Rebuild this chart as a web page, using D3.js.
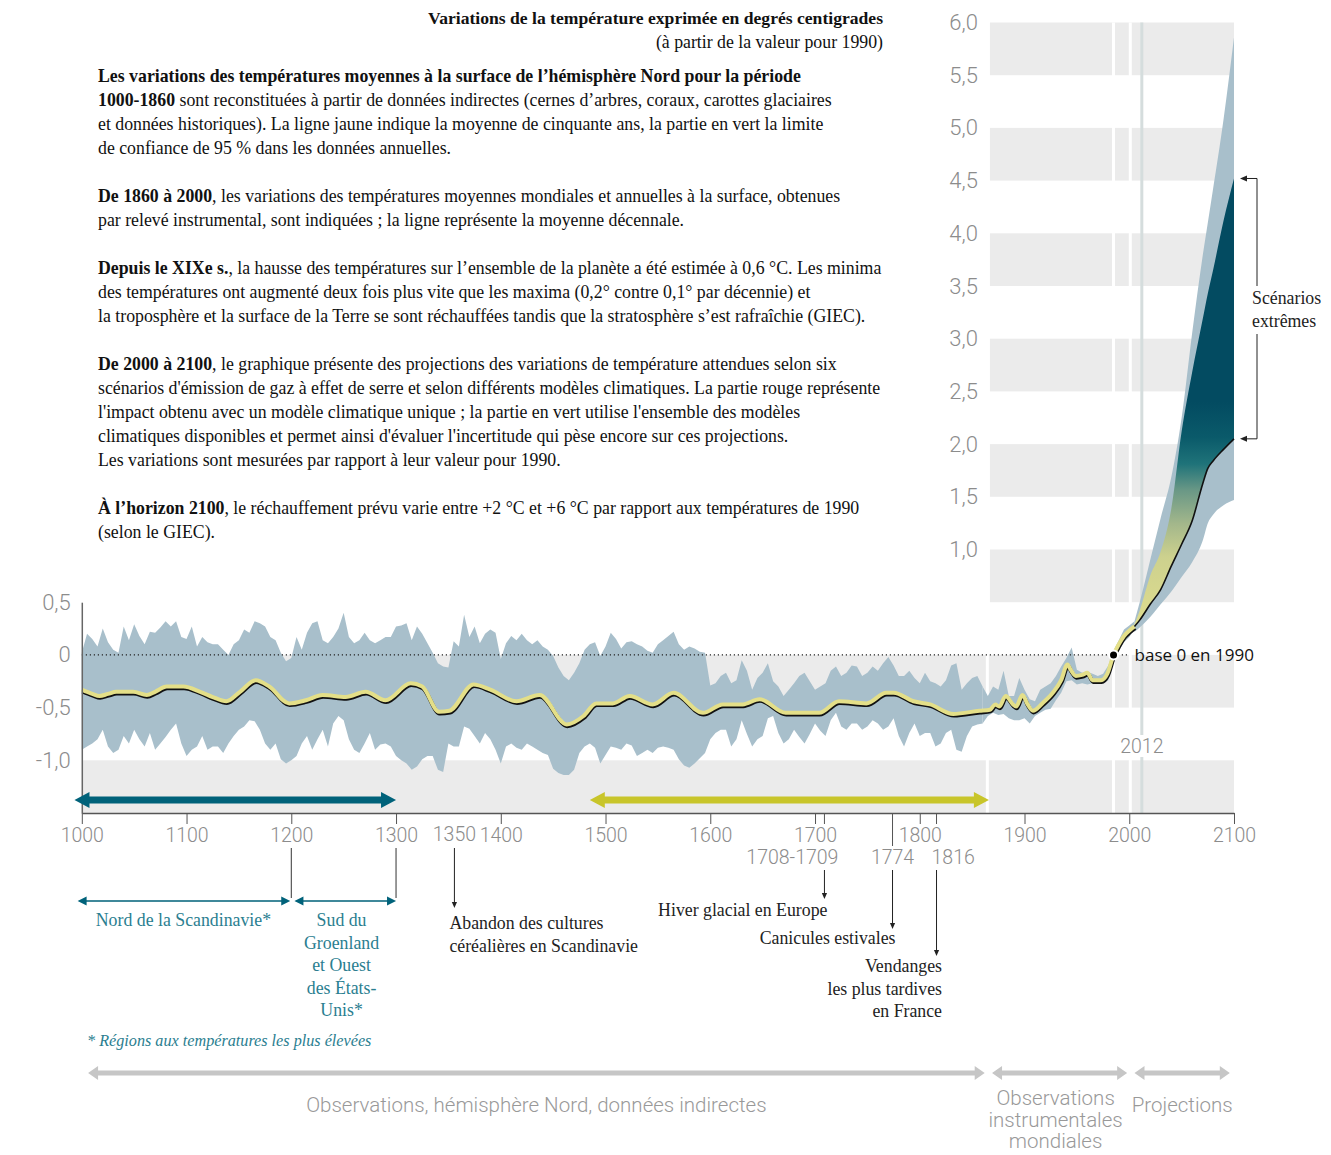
<!DOCTYPE html>
<html>
<head>
<meta charset="utf-8">
<script src="https://cdn.jsdelivr.net/npm/d3@7"></script>
<style>
  body { margin: 0; background: #fff; }
  svg { display: block; }
</style>
</head>
<body>
<svg id="chart" width="1331" height="1155"></svg>
<script>
// proxy reconstruction, 95% band (every 5 years, 1000-1860)
const proxyYears = d3.range(1000, 1861, 5);
const proxyUpper = [
  0.02, 0.20, 0.15, 0.08, 0.25, 0.12, 0.05, 0.02, 0.27, 0.14,
  0.29, 0.18, 0.10, 0.22, 0.21, 0.26, 0.32, 0.27, 0.32, 0.17,
  0.15, 0.27, 0.08, 0.17, 0.12, 0.10, 0.10, 0.05, 0.00, 0.10,
  0.14, 0.24, 0.21, 0.32, 0.30, 0.27, 0.17, 0.14, 0.02, -0.06,
  -0.03, 0.17, 0.05, 0.21, 0.30, 0.32, 0.14, 0.11, 0.17, 0.25,
  0.40, 0.17, 0.11, 0.14, 0.21, 0.14, 0.11, 0.14, 0.17, 0.17,
  0.27, 0.28, 0.30, 0.14, 0.27, 0.20, 0.11, 0.02, -0.08, -0.11,
  -0.12, 0.13, 0.08, 0.38, 0.17, 0.27, 0.11, 0.20, 0.24, 0.21,
  -0.04, 0.11, 0.18, 0.14, 0.20, 0.14, 0.10, 0.14, 0.08, 0.05,
  -0.01, -0.12, -0.20, -0.24, -0.17, -0.08, 0.05, 0.10, 0.12, -0.01,
  0.08, 0.21, 0.15, 0.06, 0.12, 0.13, 0.10, 0.08, 0.04, 0.02,
  0.10, 0.14, 0.18, 0.22, 0.10, 0.05, 0.08, 0.06, 0.03, 0.02,
  -0.29, -0.27, -0.20, -0.17, -0.27, -0.24, -0.05, -0.15, -0.33, -0.22,
  -0.17, -0.08, -0.25, -0.30, -0.39, -0.33, -0.27, -0.20, -0.17, -0.25,
  -0.33, -0.30, -0.27, -0.15, -0.11, -0.20, -0.17, -0.10, -0.11, -0.20,
  -0.17, -0.11, -0.15, -0.08, -0.02, -0.10, -0.20, -0.20, -0.15, -0.22,
  -0.27, -0.17, -0.25, -0.27, -0.30, -0.24, -0.10, -0.08, -0.33, -0.27,
  -0.22, -0.20, -0.30
];
const proxyLower = [
  -0.90, -0.87, -0.84, -0.80, -0.71, -0.87, -0.93, -0.90, -0.77, -0.84,
  -0.71, -0.80, -0.87, -0.74, -0.90, -0.84, -0.78, -0.71, -0.65, -0.84,
  -0.96, -0.90, -0.87, -0.77, -0.90, -0.87, -0.87, -0.93, -0.84, -0.77,
  -0.71, -0.68, -0.62, -0.63, -0.71, -0.84, -0.90, -0.84, -0.99, -1.03,
  -1.00, -0.96, -0.84, -0.77, -0.90, -0.80, -0.71, -0.87, -0.65, -0.58,
  -0.62, -0.80, -0.90, -0.93, -0.84, -0.74, -0.90, -0.85, -0.84, -0.87,
  -0.96, -1.00, -1.03, -1.09, -1.06, -0.99, -0.96, -0.96, -1.09, -1.11,
  -0.84, -0.87, -0.87, -0.68, -0.70, -0.77, -0.84, -0.74, -0.80, -0.90,
  -1.03, -0.87, -0.84, -0.88, -0.90, -0.84, -0.87, -0.90, -0.93, -0.95,
  -1.08, -1.12, -1.14, -1.14, -1.09, -0.93, -0.87, -0.84, -0.88, -1.03,
  -0.95, -0.87, -0.88, -0.90, -0.84, -0.86, -0.96, -0.93, -0.90, -0.93,
  -0.88, -0.87, -0.88, -0.90, -0.99, -1.05, -1.07, -1.03, -0.98, -0.93,
  -0.80, -0.74, -0.71, -0.71, -0.87, -0.80, -0.62, -0.75, -0.87, -0.80,
  -0.77, -0.60, -0.58, -0.74, -0.84, -0.80, -0.71, -0.78, -0.84, -0.75,
  -0.65, -0.72, -0.77, -0.62, -0.55, -0.68, -0.71, -0.65, -0.65, -0.71,
  -0.68, -0.62, -0.65, -0.71, -0.68, -0.60, -0.77, -0.87, -0.74, -0.65,
  -0.77, -0.74, -0.74, -0.87, -0.84, -0.74, -0.71, -0.90, -0.92, -0.77,
  -0.68, -0.66, -0.65
];

// instrumental record, annual spread (every 5 years, 1860-2005)
const instrYears = d3.range(1860, 2006, 5);
const instrUpper = [
  -0.30, -0.39, -0.30, -0.33, -0.15, -0.39, -0.39, -0.22, -0.33, -0.42,
  -0.44, -0.33, -0.30, -0.27, -0.20, -0.11, -0.03, 0.07, -0.14, -0.17,
  -0.16, -0.18, -0.20, -0.18, -0.10, 0.04, 0.14, 0.24, 0.28, 0.32
];
const instrLower = [
  -0.65, -0.58, -0.55, -0.57, -0.56, -0.60, -0.62, -0.62, -0.60, -0.65,
  -0.58, -0.55, -0.52, -0.51, -0.43, -0.36, -0.25, -0.24, -0.28, -0.27,
  -0.28, -0.27, -0.27, -0.27, -0.24, -0.08, 0.04, 0.12, 0.17, 0.24
];

// 50-year mean (proxies) then decadal mean (instruments)
const meanYears = [
  1000, 1010, 1017, 1025, 1033, 1049, 1062, 1070, 1081, 1097,
  1113, 1125, 1138, 1151, 1166, 1179, 1198, 1214, 1230, 1252,
  1271, 1290, 1314, 1325, 1341, 1351, 1374, 1390, 1415, 1437,
  1463, 1479, 1491, 1507, 1523, 1545, 1565, 1593, 1612, 1631,
  1647, 1672, 1704, 1723, 1749, 1768, 1775, 1794, 1810, 1832,
  1857, 1867, 1872, 1876, 1882, 1889, 1892, 1898, 1903, 1908,
  1917, 1927, 1935, 1941, 1944, 1949, 1955, 1960, 1965, 1973,
  1979, 1985, 1990, 1995, 2000, 2005
];
const meanValues = [
  -0.33, -0.37, -0.39, -0.37, -0.35, -0.35, -0.38, -0.35, -0.30, -0.30,
  -0.35, -0.40, -0.44, -0.35, -0.24, -0.30, -0.46, -0.43, -0.38, -0.40,
  -0.35, -0.43, -0.27, -0.30, -0.54, -0.53, -0.28, -0.33, -0.44, -0.38,
  -0.66, -0.58, -0.46, -0.46, -0.39, -0.47, -0.36, -0.55, -0.47, -0.47,
  -0.42, -0.55, -0.55, -0.44, -0.46, -0.36, -0.36, -0.44, -0.47, -0.56,
  -0.53, -0.52, -0.47, -0.49, -0.39, -0.47, -0.49, -0.38, -0.47, -0.53,
  -0.46, -0.36, -0.24, -0.09, -0.14, -0.20, -0.19, -0.17, -0.24, -0.24,
  -0.18, 0.00, 0.10, 0.18, 0.23, 0.27
];

// projections 2005-2100
const projYears     = [2005, 2010, 2020, 2030, 2040, 2050, 2060, 2070, 2075, 2080, 2090, 2100];
const outerUpper    = [0.32, 0.50, 0.90, 1.30, 1.68, 2.25, 3.05, 3.78, 4.10, 4.42, 5.08, 5.86];
const scenarioUpper = [0.29, 0.42, 0.75, 0.98, 1.38, 2.12, 2.68, 3.18, 3.43, 3.65, 4.12, 4.52];
const scenarioLower = [0.27, 0.33, 0.48, 0.62, 0.84, 1.05, 1.27, 1.62, 1.77, 1.84, 1.95, 2.05];
const outerLower    = [0.22, 0.26, 0.36, 0.48, 0.60, 0.74, 0.88, 1.08, 1.25, 1.33, 1.42, 1.47];

const xTicks = d3.range(1000, 2101, 100);
const leftTicks = [0.5, 0, -0.5, -1.0];
const rightTicks = d3.range(1, 6.01, 0.5);
const separatorYears = [1864.5, 1985, 2001];
const baseYear = 1985;
const markYear = 2012;
const warmArrow = [993, 1300];
const coldArrow = [1485, 1866];
const eras = [
  {from: 1006, to: 1862, label: ["Observations, hémisphère Nord, données indirectes"]},
  {from: 1869, to: 1998, label: ["Observations", "instrumentales", "mondiales"]},
  {from: 2005, to: 2096, label: ["Projections"]}
];

const paragraphs = [
  [["Les variations des températures moyennes à la surface de l’hémisphère Nord pour la période", ""],
   ["1000-1860", " sont reconstituées à partir de données indirectes (cernes d’arbres, coraux, carottes glaciaires"],
   ["", "et données historiques). La ligne jaune indique la moyenne de cinquante ans, la partie en vert la limite"],
   ["", "de confiance de 95 % dans les données annuelles."]],
  [["De 1860 à 2000", ", les variations des températures moyennes mondiales et annuelles à la surface, obtenues"],
   ["", "par relevé instrumental, sont indiquées ; la ligne représente la moyenne décennale."]],
  [["Depuis le XIXe s.", ", la hausse des températures sur l’ensemble de la planète a été estimée à 0,6 °C. Les minima"],
   ["", "des températures ont augmenté deux fois plus vite que les maxima (0,2° contre 0,1° par décennie) et"],
   ["", "la troposphère et la surface de la Terre se sont réchauffées tandis que la stratosphère s’est rafraîchie (GIEC)."]],
  [["De 2000 à 2100", ", le graphique présente des projections des variations de température attendues selon six"],
   ["", "scénarios d'émission de gaz à effet de serre et selon différents modèles climatiques. La partie rouge représente"],
   ["", "l'impact obtenu avec un modèle climatique unique ; la partie en vert utilise l'ensemble des modèles"],
   ["", "climatiques disponibles et permet ainsi d'évaluer l'incertitude qui pèse encore sur ces projections."],
   ["", "Les variations sont mesurées par rapport à leur valeur pour 1990."]],
  [["À l’horizon 2100", ", le réchauffement prévu varie entre +2 °C et +6 °C par rapport aux températures de 1990"],
   ["", "(selon le GIEC)."]]
];

const SERIF = "'Liberation Serif', 'DejaVu Serif', serif";
const SANS = "Roboto, 'Liberation Sans', sans-serif";
const grey = "#8c8c8c";
const bandBlue = "#a8bfcb";
const teal = "#00627a";
const tealText = "#2a7e90";
const serifSize = 17.8;

const svg = d3.select("#chart");
const x = d3.scaleLinear().domain([1000, 2100]).range([81.8, 1234]);
const y = d3.scaleLinear().domain([-1.5, 6]).range([813, 22.5]);

// background bands
const bg = svg.append("g");
[[-0.5, 0], [-1.5, -1.0]].forEach(b => {
    bg.append("rect")
        .attr("x", x(1000)).attr("width", x(2100) - x(1000))
        .attr("y", y(b[1])).attr("height", y(b[0]) - y(b[1]))
        .attr("fill", "#ebebeb");
});
[[0.5, 1], [1.5, 2], [2.5, 3], [3.5, 4], [4.5, 5], [5.5, 6]].forEach(b => {
    bg.append("rect")
        .attr("x", x(1867)).attr("width", x(2100) - x(1867))
        .attr("y", y(b[1])).attr("height", y(b[0]) - y(b[1]))
        .attr("fill", "#ebebeb");
});
bg.selectAll("line.sep").data(separatorYears).join("line")
    .attr("x1", d => x(d)).attr("x2", d => x(d))
    .attr("y1", y(6)).attr("y2", y(-1.5))
    .attr("stroke", "#fff").attr("stroke-width", 3);
bg.append("line")
    .attr("x1", x(markYear)).attr("x2", x(markYear))
    .attr("y1", y(6)).attr("y2", y(-1.5))
    .attr("stroke", "#d5dddd").attr("stroke-width", 3);
bg.append("rect").attr("x", x(markYear) - 25).attr("y", 735).attr("width", 50).attr("height", 22).attr("fill", "#fff");
bg.append("text").attr("x", x(markYear)).attr("y", 753)
    .attr("text-anchor", "middle").attr("font-family", SANS).attr("font-weight", 300)
    .attr("font-size", 19.5).attr("fill", grey).text(markYear);

// bands
const band = d3.area()
    .x(d => x(d.yr)).y0(d => y(d.lo)).y1(d => y(d.hi));
const proxy = proxyYears.map((yr, i) => ({yr, hi: proxyUpper[i], lo: proxyLower[i]}));
const instr = instrYears.map((yr, i) => ({yr, hi: instrUpper[i], lo: instrLower[i]}));
const proj = projYears.map((yr, i) => ({
    yr, hi: outerUpper[i], lo: outerLower[i], shi: scenarioUpper[i], slo: scenarioLower[i]
}));

svg.append("path").datum(proxy).attr("d", band).attr("fill", bandBlue);
svg.append("path").datum(instr).attr("d", band).attr("fill", bandBlue);
svg.append("path").datum(proj).attr("d", band.curve(d3.curveMonotoneX)).attr("fill", bandBlue);

const grad = svg.append("defs").append("linearGradient")
    .attr("id", "scen").attr("gradientUnits", "userSpaceOnUse")
    .attr("x1", 0).attr("x2", 0).attr("y1", y(0.3)).attr("y2", y(2.4));
[[0, "#dedc8e"], [0.3, "#cdd18e"], [0.45, "#a3b78b"], [0.6, "#6a9886"],
 [0.72, "#1f7379"], [0.84, "#0a5a6a"], [1, "#034b61"]].forEach(s => {
    grad.append("stop").attr("offset", s[0]).attr("stop-color", s[1]);
});
svg.append("path").datum(proj)
    .attr("d", d3.area().x(d => x(d.yr)).y0(d => y(d.slo)).y1(d => y(d.shi)).curve(d3.curveMonotoneX))
    .attr("fill", "url(#scen)");

// zero reference
svg.append("line")
    .attr("x1", x(1000)).attr("x2", x(baseYear) + 16)
    .attr("y1", y(0)).attr("y2", y(0))
    .attr("stroke", "#222").attr("stroke-width", 1.2).attr("stroke-dasharray", "1.2,2.8");

// mean lines
const mean = meanYears.map((yr, i) => ({yr, v: meanValues[i]}));
const line = d3.line().x(d => x(d.yr)).y(d => y(d.v)).curve(d3.curveMonotoneX);
svg.append("path").datum(mean).attr("d", line)
    .attr("transform", "translate(0.6,1.7)")
    .attr("fill", "none").attr("stroke", "#111").attr("stroke-width", 4);
svg.append("path").datum(mean).attr("d", line)
    .attr("fill", "none").attr("stroke", "#e4df88").attr("stroke-width", 4);
svg.append("path").datum(proj.map(d => ({yr: d.yr, v: d.slo}))).attr("d", line)
    .attr("fill", "none").attr("stroke", "#111").attr("stroke-width", 1.6);

svg.append("circle").attr("cx", x(baseYear)).attr("cy", y(0)).attr("r", 4.5)
    .attr("fill", "#000").attr("stroke", "#fff").attr("stroke-width", 2);
svg.append("text").attr("x", x(baseYear) + 21).attr("y", y(0) + 6)
    .attr("font-family", "'Open Sans', sans-serif").attr("font-size", 17).attr("fill", "#111")
    .text("base 0 en 1990");

// axes
const gx = svg.append("g").attr("transform", `translate(0,${y(-1.5)})`)
    .call(d3.axisBottom(x).tickValues(xTicks).tickSize(11).tickSizeOuter(0).tickPadding(4).tickFormat(d3.format("d")));
gx.attr("font-family", SANS).attr("font-size", 19.5);
gx.select(".domain").attr("stroke", "#555").attr("stroke-width", 1.5);
gx.selectAll(".tick line").attr("stroke", "#555");
gx.selectAll(".tick text").attr("fill", grey).attr("font-weight", 300);

const decimal = v => v === 0 ? "0" : v.toFixed(1).replace(".", ",");
const yLow = d3.scaleLinear().domain([-1.5, 0.5]).range([y(-1.5), y(0.5)]);
const gyl = svg.append("g").attr("transform", `translate(${x(1000)},0)`)
    .call(d3.axisLeft(yLow).tickValues(leftTicks).tickSize(0).tickSizeOuter(0).tickPadding(11).tickFormat(decimal));
gyl.attr("font-family", SANS).attr("font-size", 22);
gyl.select(".domain").attr("stroke", "#666").attr("stroke-width", 1.5);
gyl.selectAll(".tick text").attr("fill", grey).attr("font-weight", 300);

const yHigh = d3.scaleLinear().domain([1, 6]).range([y(1), y(6)]);
const gyr = svg.append("g").attr("transform", `translate(${x(1867)},0)`)
    .call(d3.axisLeft(yHigh).tickValues(rightTicks).tickSize(0).tickPadding(12).tickFormat(decimal));
gyr.attr("font-family", SANS).attr("font-size", 22);
gyr.select(".domain").remove();
gyr.selectAll(".tick text").attr("fill", grey).attr("font-weight", 300);

// extra ticks and event labels under the axis
const ann = svg.append("g");
const axisY = y(-1.5);
[1709, 1816].forEach(yr => {
    ann.append("line").attr("x1", x(yr)).attr("x2", x(yr)).attr("y1", axisY).attr("y2", axisY + 11)
        .attr("stroke", "#555");
});
ann.append("line").attr("x1", x(1774)).attr("x2", x(1774)).attr("y1", axisY).attr("y2", axisY + 33)
    .attr("stroke", "#555");
function greyLabel(tx, ty, anchor, txt) {
    ann.append("text").attr("x", tx).attr("y", ty).attr("text-anchor", anchor)
        .attr("font-family", SANS).attr("font-weight", 300).attr("font-size", 19.5)
        .attr("fill", grey).text(txt);
}
greyLabel(x(1350) + 6, axisY + 28, "middle", "1350");
greyLabel(x(1709) + 14, axisY + 51, "end", "1708-1709");
greyLabel(x(1774), axisY + 51, "middle", "1774");
greyLabel(x(1816) - 5, axisY + 51, "start", "1816");

function downArrow(xx, y1, y2) {
    ann.append("line").attr("x1", xx).attr("x2", xx).attr("y1", y1).attr("y2", y2 - 5)
        .attr("stroke", "#222").attr("stroke-width", 1);
    ann.append("path").attr("d", `M${xx - 2.6},${y2 - 6}L${xx + 2.6},${y2 - 6}L${xx},${y2}Z`).attr("fill", "#222");
}
[1200, 1300].forEach(yr => {
    ann.append("line").attr("x1", x(yr)).attr("x2", x(yr)).attr("y1", 848).attr("y2", 898)
        .attr("stroke", "#333").attr("stroke-width", 1);
});
downArrow(x(1350) + 6, 848, 908);
downArrow(x(1709), 870, 899);
downArrow(x(1774), 870, 929);
downArrow(x(1816), 870, 956);

function serifLines(tx, ty, anchor, lines, color, step, italic) {
    const t = ann.append("text").attr("x", tx).attr("y", ty).attr("text-anchor", anchor)
        .attr("font-family", SERIF).attr("font-size", italic ? 16.2 : serifSize).attr("fill", color)
        .attr("font-style", italic ? "italic" : "normal");
    lines.forEach((l, i) => {
        t.append("tspan").attr("x", tx).attr("dy", i === 0 ? 0 : step).text(l);
    });
}
serifLines(x(1350) + 1, 929, "start", ["Abandon des cultures", "céréalières en Scandinavie"], "#222", 23);
serifLines(x(1709) + 3, 916, "end", ["Hiver glacial en Europe"], "#222", 23);
serifLines(x(1774) + 3, 944, "end", ["Canicules estivales"], "#222", 23);
serifLines(x(1816) + 5.5, 972, "end", ["Vendanges", "les plus tardives", "en France"], "#222", 22.5);
serifLines(x(1097), 926, "middle", ["Nord de la Scandinavie*"], tealText, 22.5);
serifLines(x(1248), 926, "middle", ["Sud du", "Groenland", "et Ouest", "des États-", "Unis*"], tealText, 22.5);
serifLines(87, 1046, "start", ["* Régions aux températures les plus élevées"], tealText, 22, true);

// double arrows
function arrowPath(x1, x2, yc, t, L, h) {
    return `M${x1},${yc}L${x1 + L},${yc - h}L${x1 + L},${yc - t}L${x2 - L},${yc - t}L${x2 - L},${yc - h}` +
        `L${x2},${yc}L${x2 - L},${yc + h}L${x2 - L},${yc + t}L${x1 + L},${yc + t}L${x1 + L},${yc + h}Z`;
}
ann.append("path").attr("d", arrowPath(x(warmArrow[0]), x(warmArrow[1]), 800, 3.5, 15, 8)).attr("fill", teal);
ann.append("path").attr("d", arrowPath(x(coldArrow[0]), x(coldArrow[1]), 800, 3.5, 15, 8)).attr("fill", "#c8c52a");
ann.append("path").attr("d", arrowPath(x(996), x(1199), 901, 0.8, 9, 4.5)).attr("fill", teal);
ann.append("path").attr("d", arrowPath(x(1203), x(1300), 901, 0.8, 9, 4.5)).attr("fill", teal);

eras.forEach(e => {
    ann.append("path").attr("d", arrowPath(x(e.from), x(e.to), 1073, 2.5, 10, 7)).attr("fill", "#c6c6c6");
    const cx = (x(e.from) + x(e.to)) / 2 - (e.label.length > 1 ? 4 : 0);
    const t = ann.append("text").attr("x", cx).attr("y", e.label.length > 1 ? 1105 : 1112)
        .attr("text-anchor", "middle").attr("font-family", SANS).attr("font-weight", 300)
        .attr("font-size", 20.5).attr("fill", "#999");
    e.label.forEach((l, i) => t.append("tspan").attr("x", cx).attr("dy", i === 0 ? 0 : 21.5).text(l));
});

// extreme scenarios bracket
const bx = 1257;
ann.append("path")
    .attr("d", `M${bx},${y(4.52)}H1246M${bx},${y(4.52)}V286M${bx},334V${y(2.05)}H1246`)
    .attr("fill", "none").attr("stroke", "#222").attr("stroke-width", 1);
[4.52, 2.05].forEach(v => {
    ann.append("path").attr("d", `M1240,${y(v)}L1247,${y(v) - 3}L1247,${y(v) + 3}Z`).attr("fill", "#222");
});
serifLines(1252, 304, "start", ["Scénarios", "extrêmes"], "#222", 23);

// heading and explanatory text
const head = svg.append("g").attr("font-family", SERIF).attr("fill", "#111");
head.append("text").attr("x", 883).attr("y", 24).attr("text-anchor", "end")
    .attr("font-size", 17.6).attr("font-weight", "bold")
    .text("Variations de la température exprimée en degrés centigrades");
head.append("text").attr("x", 883).attr("y", 48).attr("text-anchor", "end")
    .attr("font-size", serifSize).text("(à partir de la valeur pour 1990)");

let lineY = 82;
paragraphs.forEach(p => {
    p.forEach(l => {
        const t = head.append("text").attr("x", 98).attr("y", lineY).attr("font-size", serifSize);
        if (l[0]) t.append("tspan").attr("font-weight", "bold").text(l[0]);
        if (l[1]) t.append("tspan").text(l[1]);
        lineY += 24;
    });
    lineY += 24;
});
</script>
</body>
</html>
